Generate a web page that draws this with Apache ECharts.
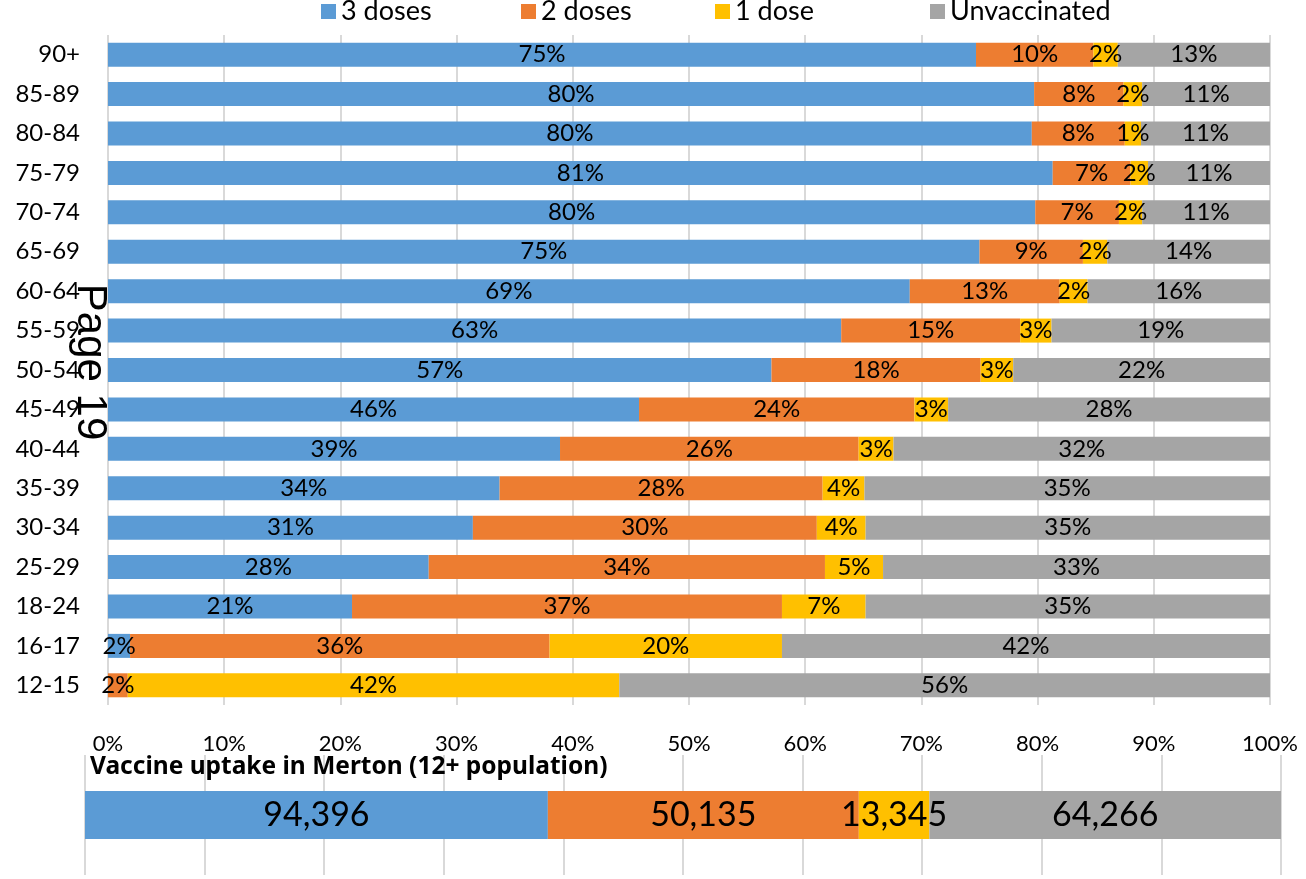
<!DOCTYPE html>
<html>
<head>
<meta charset="utf-8">
<script src="https://cdn.jsdelivr.net/npm/echarts@6/dist/echarts.min.js"></script>
<style>
html,body{margin:0;padding:0;background:#fff;}
#c{width:1306px;height:879px;}
</style>
</head>
<body>
<div id="c"></div>
<script>
const categories = ['90+','85-89','80-84','75-79','70-74','65-69','60-64','55-59','50-54','45-49','40-44','35-39','30-34','25-29','18-24','16-17','12-15'];
const seriesNames = ['3 doses','2 doses','1 dose','Unvaccinated'];
const threeDoses = [74.7, 79.7, 79.5, 81.3, 79.8, 75.0, 69.0, 63.1, 57.1, 45.7, 38.9, 33.7, 31.4, 27.6, 21.0, 1.9, 0];
const twoDoses   = [10.1, 7.7, 8.0, 6.7, 7.2, 8.9, 12.9, 15.4, 18.0, 23.7, 25.7, 27.8, 29.6, 34.1, 37.0, 36.1, 1.7];
const oneDose    = [2.1, 1.6, 1.4, 1.5, 2.0, 2.1, 2.4, 2.7, 2.8, 2.9, 3.0, 3.6, 4.2, 5.0, 7.2, 20.0, 42.3];
const unvacc     = [13.1, 11.0, 11.1, 10.5, 11.0, 14.0, 15.7, 18.8, 22.1, 27.7, 32.4, 34.9, 34.8, 33.3, 34.8, 42.0, 56.0];
const xTicks = [0,10,20,30,40,50,60,70,80,90,100];
const overallTitle = 'Vaccine uptake in Merton (12+ population)';
const overallShare = [38.7, 26.0, 5.9, 29.4];
const overallCount = [94396, 50135, 13345, 64266];
const colors = ['#5B9BD5','#ED7D31','#FFC000','#A5A5A5'];

const FONT = 'Lato';
const topData = [threeDoses, twoDoses, oneDose, unvacc];

const series = [];
topData.forEach((arr, i) => {
  series.push({
    name: seriesNames[i], type: 'bar', stack: 'age',
    xAxisIndex: 0, yAxisIndex: 0,
    barWidth: 24,
    itemStyle: { color: colors[i] },
    label: {
      show: true, position: 'inside', color: '#000', fontFamily: FONT, fontSize: 24,
      formatter: p => p.value > 0 ? Math.round(p.value) + '%' : ''
    },
    emphasis: { disabled: true },
    data: arr
  });
});
overallShare.forEach((v, i) => {
  series.push({
    name: seriesNames[i], type: 'bar', stack: 'all',
    xAxisIndex: 1, yAxisIndex: 1,
    barWidth: 48,
    itemStyle: { color: colors[i] },
    label: {
      show: true, position: 'inside', color: '#000', fontFamily: FONT, fontSize: 34,
      formatter: () => overallCount[i].toLocaleString('en-US')
    },
    emphasis: { disabled: true },
    data: [v]
  });
});

const legendLefts = [316, 516, 710, 925];
const legends = seriesNames.map((n, i) => ({
  top: -7, left: legendLefts[i],
  data: [n],
  itemWidth: 15, itemHeight: 15, itemGap: 0,
  icon: 'rect',
  textStyle: { fontFamily: FONT, fontSize: 27, color: '#000' }
}));

const chart = echarts.init(document.getElementById('c'));
chart.setOption({
  animation: false,
  backgroundColor: '#fff',
  textStyle: { fontFamily: FONT },
  legend: legends,
  grid: [
    { left: 108, right: 36, top: 35, bottom: 174 },
    { left: 85, right: 25, top: 755, bottom: 4 }
  ],
  xAxis: [
    { type: 'value', gridIndex: 0, min: 0, max: 100, interval: 10,
      axisLine: { show: false }, axisTick: { show: false },
      splitLine: { show: true, lineStyle: { color: '#d9d9d9', width: 2 } },
      axisLabel: { color: '#000', fontFamily: FONT, fontSize: 22, margin: 28,
        formatter: v => xTicks.includes(v) ? v + '%' : '' } },
    { type: 'value', gridIndex: 1, min: 0, max: 100, interval: 10,
      axisLine: { show: false }, axisTick: { show: false },
      splitLine: { show: true, lineStyle: { color: '#d9d9d9', width: 2 } },
      axisLabel: { show: false } }
  ],
  yAxis: [
    { type: 'category', gridIndex: 0, data: categories, inverse: true,
      axisLine: { show: false }, axisTick: { show: false },
      axisLabel: { color: '#000', fontFamily: FONT, fontSize: 24, margin: 28 } },
    { type: 'category', gridIndex: 1, data: ['Merton'],
      axisLine: { show: false }, axisTick: { show: false },
      axisLabel: { show: false } }
  ],
  graphic: [
    { type: 'text', left: 90, top: 755, z: 100,
      style: { text: overallTitle, fontFamily: 'Noto Sans', fontSize: 24.5, fontWeight: 'bold', fill: '#000' } },
    { type: 'text', x: 90, y: 362, rotation: -Math.PI / 2, z: 100,
      style: { text: 'Page 19', fontFamily: 'Liberation Sans', fontSize: 42, fill: '#000',
        align: 'center', verticalAlign: 'middle' } }
  ],
  series: series
});
</script>
</body>
</html>
